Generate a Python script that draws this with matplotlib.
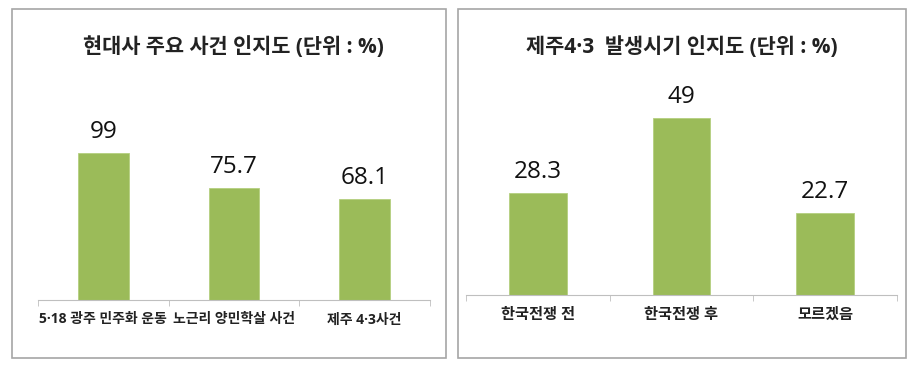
import matplotlib.pyplot as plt
from matplotlib.patches import Rectangle

# Latin font first so that the middle dot stays narrow, Hangul falls back
plt.rcParams["font.family"] = ["Open Sans", "Noto Sans CJK KR", "DejaVu Sans"]

# data
left_title = "현대사 주요 사건 인지도 (단위 : %)"
left_cats = ["5·18 광주 민주화 운동", "노근리 양민학살 사건", "제주 4·3사건"]
left_vals = [99, 75.7, 68.1]

right_title = "제주4·3  발생시기 인지도 (단위 : %)"
right_cats = ["한국전쟁 전", "한국전쟁 후", "모르겠음"]
right_vals = [28.3, 49, 22.7]

W, H = 914, 371
BAR = "#9BBB59"
GRID = "#BFBFBF"

fig = plt.figure(figsize=(W / 100, H / 100), dpi=100)


def px(x0, y0, x1, y1):
    # pixel box (top-left origin) -> figure fraction rect
    return [x0 / W, (H - y1) / H, (x1 - x0) / W, (y1 - y0) / H]


def panel(box, axbox, cats, vals, ymax, title, title_xy, bw, tick_fs):
    fig.patches.append(Rectangle((box[0], box[1]), box[2], box[3],
                                 transform=fig.transFigure, fill=False,
                                 edgecolor="#A6A6A6", linewidth=1.2))
    ax = fig.add_axes(axbox)
    x = list(range(len(cats)))
    ax.bar(x, vals, width=bw, color=BAR, edgecolor="#B5CF7F", linewidth=0.6)
    ax.set_xlim(-0.5, len(cats) - 0.5)
    ax.set_ylim(0, ymax)
    for s in ["top", "right", "left"]:
        ax.spines[s].set_visible(False)
    ax.spines["bottom"].set_color(GRID)
    ax.set_yticks([])
    ax.set_xticks(x)
    ax.set_xticklabels(cats, fontsize=tick_fs, fontweight="bold", color="#222222")
    ax.tick_params(axis="x", which="major", length=0, pad=9)
    ax.set_xticks([i - 0.5 for i in range(len(cats) + 1)], minor=True)
    ax.tick_params(axis="x", which="minor", length=4, color=GRID)
    for xi, v in zip(x, vals):
        ax.annotate(f"{v:g}", (xi, v), xytext=(0, 15), textcoords="offset points",
                    ha="center", va="center", fontsize=17.5, color="#111111")
    fig.text(title_xy[0] / W, 1 - title_xy[1] / H, title, ha="center", va="center",
             fontsize=15, fontweight="bold", color="#222222")
    return ax


panel(px(12, 9, 446, 358), px(38, 122, 430, 300), left_cats, left_vals, 120,
      left_title, (233, 47), 0.39, 10)
panel(px(458, 9, 906, 358), px(466, 78, 897, 295), right_cats, right_vals, 60,
      right_title, (682, 47), 0.40, 11)

fig.savefig("out.png", dpi=100)
